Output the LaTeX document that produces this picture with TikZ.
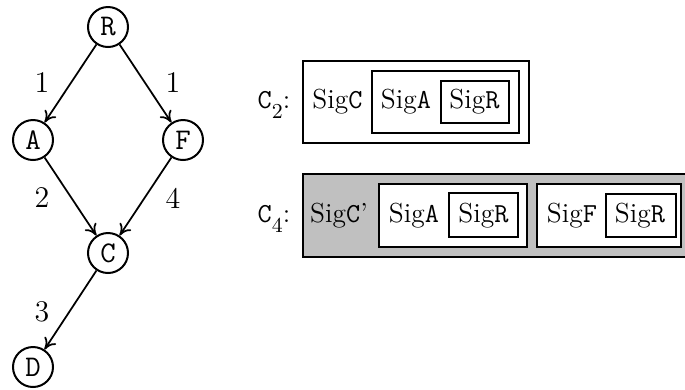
\documentclass[tikz,border=0pt]{standalone}
\usetikzlibrary{arrows.meta}
\definecolor{boxgray}{RGB}{192,192,192}
\begin{document}
\fontsize{11}{13.6}\selectfont
\begin{tikzpicture}[x=0.4pt,y=-0.4pt,
  vert/.style={draw,circle,line width=0.8pt,minimum size=16pt,inner sep=0pt,font=\fontsize{12}{14}\selectfont\ttfamily},
  arr/.style={-{To[length=4.5pt,width=5.5pt]},line width=0.7pt},
  lbl/.style={inner sep=0pt,font=\fontsize{12}{14}\selectfont},
  sbox/.style={draw,line width=0.8pt,rectangle,inner sep=0pt},
  txt/.style={anchor=base,inner sep=0pt}]
\useasboundingbox (0,0) rectangle (685,389);
\clip (0,0) rectangle (685,389);
% graph
\node[vert] (R) at (108,27) {R};
\node[vert] (A) at (33,140) {A};
\node[vert] (F) at (183,140) {F};
\node[vert] (C) at (108,253) {C};
\node[vert] (D) at (33,367) {D};
\draw[arr] (R) -- (A);
\draw[arr] (R) -- (F);
\draw[arr] (A) -- (C);
\draw[arr] (F) -- (C);
\draw[arr] (C) -- (D);
\node[lbl] (l1) at (42,83) {1};
\node[lbl] (l2) at (173,83) {1};
\node[lbl] (l3) at (42,198) {2};
\node[lbl] (l4) at (173,198) {4};
\node[lbl] (l5) at (42,312) {3};
% C2
\node[txt] (c2l) at (274,108) {\texttt{C}\raisebox{-4pt}{\fontsize{8.5}{9}\selectfont 2}:};
\node[sbox,minimum width=90.4pt,minimum height=32.8pt] (c2o) at (416,102) {};
\node[sbox,minimum width=58.8pt,minimum height=24.8pt] (c2m) at (445.5,102) {};
\node[sbox,minimum width=27.2pt,minimum height=16.8pt] (c2r) at (475,102) {};
\node[txt] (t1) at (337.5,108) {Sig\texttt{C}};
\node[txt] (t2) at (406,108) {Sig\texttt{A}};
\node[txt] (t3) at (474.5,108) {Sig\texttt{R}};
% C4
\node[txt] (c4l) at (274,222) {\texttt{C}\raisebox{-4pt}{\fontsize{8.5}{9}\selectfont 4}:};
\node[sbox,fill=boxgray,minimum width=154.8pt,minimum height=33.2pt] (c4o) at (496.5,215.5) {};
\node[sbox,fill=white,minimum width=59.2pt,minimum height=25.2pt] (c4a) at (453,215.5) {};
\node[sbox,minimum width=27.6pt,minimum height=17.6pt] (c4ar) at (483.5,215) {};
\node[sbox,fill=white,minimum width=57.6pt,minimum height=25.2pt] (c4f) at (609,215) {};
\node[sbox,minimum width=28pt,minimum height=17.2pt] (c4fr) at (641,215.5) {};
\node[txt] (t4) at (339,222) {Sig\texttt{C}'};
\node[txt] (t5) at (414,222) {Sig\texttt{A}};
\node[txt] (t6) at (483.5,222) {Sig\texttt{R}};
\node[txt] (t7) at (572,222) {Sig\texttt{F}};
\node[txt] (t8) at (640,222) {Sig\texttt{R}};
\end{tikzpicture}
\end{document}
